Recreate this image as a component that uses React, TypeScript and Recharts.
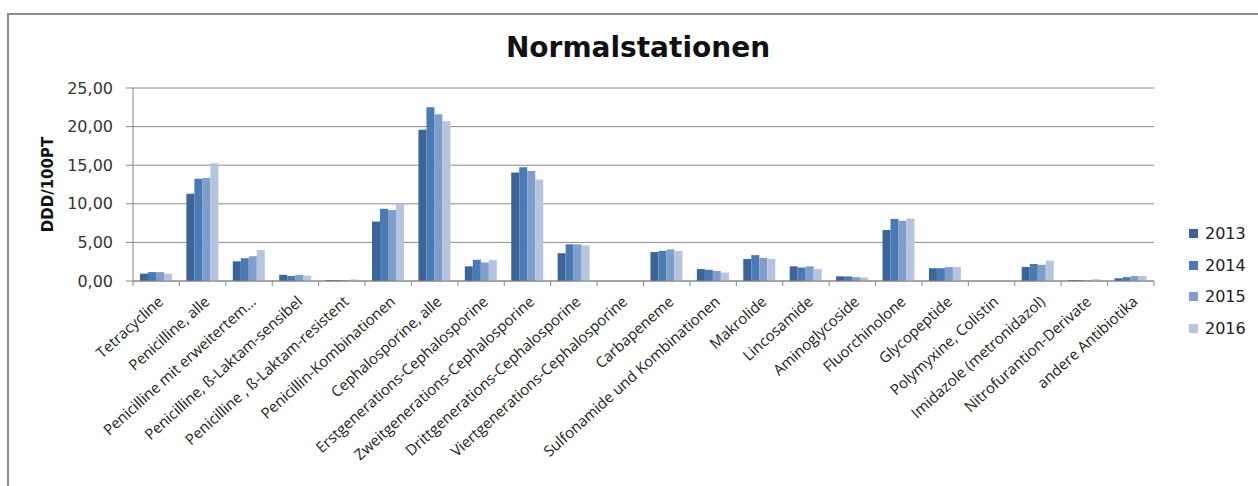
import React from 'react';
import { BarChart, Bar, XAxis, YAxis, CartesianGrid } from 'recharts';

const categories = [
  'Tetracycline',
  'Penicilline, alle',
  'Penicilline mit erweitertem...',
  'Penicilline, ß-Laktam-sensibel',
  'Penicilline , ß-Laktam-resistent',
  'Penicillin-Kombinationen',
  'Cephalosporine, alle',
  'Erstgenerations-Cephalosporine',
  'Zweitgenerations-Cephalosporine',
  'Drittgenerations-Cephalosporine',
  'Viertgenerations-Cephalosporine',
  'Carbapeneme',
  'Sulfonamide und Kombinationen',
  'Makrolide',
  'Lincosamide',
  'Aminoglycoside',
  'Fluorchinolone',
  'Glycopeptide',
  'Polymyxine, Colistin',
  'Imidazole (metronidazol)',
  'Nitrofurantion-Derivate',
  'andere Antibiotika',
];

const years = ['2013', '2014', '2015', '2016'];

const values2013 = [0.95, 11.3, 2.55, 0.8, 0.12, 7.7, 19.6, 1.9, 14.05, 3.6, 0, 3.75, 1.55, 2.85, 1.9, 0.6, 6.6, 1.65, 0, 1.8, 0.12, 0.35];
const values2014 = [1.15, 13.25, 2.95, 0.65, 0.12, 9.35, 22.5, 2.75, 14.75, 4.75, 0, 3.9, 1.45, 3.35, 1.75, 0.6, 8.05, 1.65, 0, 2.2, 0.12, 0.5];
const values2015 = [1.15, 13.35, 3.2, 0.8, 0.12, 9.2, 21.6, 2.4, 14.25, 4.75, 0, 4.1, 1.3, 3.0, 1.9, 0.5, 7.8, 1.8, 0, 2.1, 0.1, 0.65];
const values2016 = [0.95, 15.25, 4.0, 0.7, 0.2, 10.1, 20.7, 2.7, 13.15, 4.6, 0, 3.9, 1.1, 2.85, 1.55, 0.45, 8.1, 1.8, 0, 2.65, 0.22, 0.65];

const yTicks = [0, 5, 10, 15, 20, 25];

const colors = ['#3d6497', '#4a7ab4', '#7f9ecb', '#b5c4e0'];

const data = categories.map((name, i) => ({
  name,
  '2013': values2013[i],
  '2014': values2014[i],
  '2015': values2015[i],
  '2016': values2016[i],
}));

const W = 1258;
const H = 486;
const margin = { top: 88, right: 104, bottom: 5, left: 0 };
const yAxisWidth = 133;
const plotWidth = W - margin.left - margin.right - yAxisWidth;
const band = plotWidth / categories.length;
const axisColor = '#868686';

function CategoryTick(props: any) {
  const { x, y, payload, index } = props;
  return (
    <g>
      <line x1={x - band / 2} x2={x - band / 2} y1={y} y2={y + 5} stroke={axisColor} />
      {index === categories.length - 1 && (
        <line x1={x + band / 2} x2={x + band / 2} y1={y} y2={y + 5} stroke={axisColor} />
      )}
      <text
        x={x + 8}
        y={y + 22}
        textAnchor="end"
        transform={`rotate(-42, ${x + 8}, ${y + 22})`}
        fontSize={15}
        fontFamily="'Open Sans', sans-serif"
        fill="#222"
      >
        {payload.value}
      </text>
    </g>
  );
}

function LegendBox() {
  return (
    <div style={{ position: 'absolute', left: 1189, top: 218 }}>
      {years.map((yr, i) => (
        <div key={yr} style={{ display: 'flex', alignItems: 'center', height: 31.5 }}>
          <span style={{ width: 9, height: 9, background: colors[i], display: 'inline-block', marginRight: 7 }} />
          <span style={{ fontSize: 16, fontFamily: "'DejaVu Sans', sans-serif", color: '#222' }}>{yr}</span>
        </div>
      ))}
    </div>
  );
}

export default function App() {
  return (
    <div style={{ position: 'absolute', left: 0, top: 0, width: W, height: H, background: '#fff', overflow: 'hidden' }}>
      <div
        style={{
          position: 'absolute',
          left: 7,
          top: 13,
          width: 1400,
          height: 600,
          borderLeft: '2px solid #8c8c8c',
          borderTop: '2px solid #8c8c8c',
        }}
      />
      <div
        style={{
          position: 'absolute',
          left: 9,
          top: 34,
          width: W,
          textAlign: 'center',
          fontFamily: "'DejaVu Sans', sans-serif",
          fontWeight: 'bold',
          fontSize: 28,
          lineHeight: '28px',
          color: '#111',
        }}
      >
        Normalstationen
      </div>
      <div style={{ position: 'absolute', left: 0, top: 0 }}>
        <BarChart width={W} height={H} data={data} margin={margin} barCategoryGap="15%" barGap={0}>
          <CartesianGrid vertical={false} stroke="#8c8c8c" />
          <XAxis
            dataKey="name"
            interval={0}
            height={200}
            tickLine={false}
            tickSize={0}
            tickMargin={0}
            axisLine={{ stroke: axisColor }}
            tick={<CategoryTick />}
          />
          <YAxis
            width={yAxisWidth}
            domain={[0, 25]}
            ticks={yTicks}
            interval={0}
            tickFormatter={(v: number) => v.toFixed(2).replace('.', ',')}
            tickSize={7}
            tickMargin={13}
            tickLine={{ stroke: axisColor }}
            axisLine={{ stroke: axisColor }}
            tick={{ fontSize: 16, fontFamily: "'DejaVu Sans', sans-serif", fill: '#333' }}
            label={{
              value: 'DDD/100PT',
              angle: -90,
              position: 'insideLeft',
              offset: 48,
              textAnchor: 'middle',
              style: { fontSize: 15, fontWeight: 'bold', fontFamily: "'DejaVu Sans', sans-serif", fill: '#111' },
            }}
          />
          {years.map((yr, i) => (
            <Bar key={yr} dataKey={yr} fill={colors[i]} isAnimationActive={false} />
          ))}
        </BarChart>
      </div>
      <LegendBox />
    </div>
  );
}
